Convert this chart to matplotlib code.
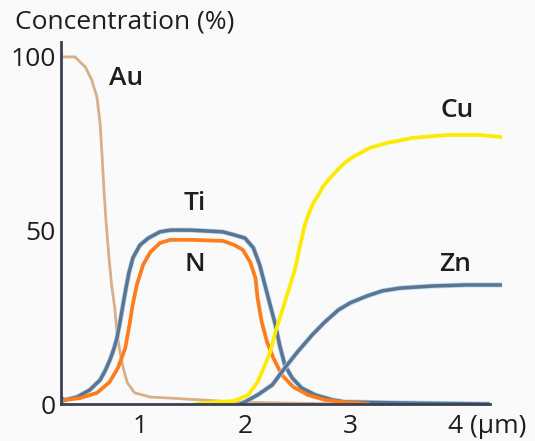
import matplotlib
matplotlib.use("Agg")
import matplotlib.pyplot as plt
import matplotlib.patheffects as pe

plt.rcParams["font.family"] = ["Open Sans", "DejaVu Sans"]

# depth profile, depth in µm, concentration in %
au_x = [0.25, 0.38, 0.48, 0.54, 0.59, 0.62, 0.64, 0.657, 0.676, 0.705, 0.73, 0.76,
        0.78, 0.81, 0.84, 0.88, 0.95, 1.10, 1.29, 1.57, 1.89, 2.33, 3.0, 3.57]
au_y = [100, 100, 97.1, 93.4, 88.5, 81.0, 71.2, 61.7, 53.0, 42.1, 34.3, 27.7,
        20.7, 15.0, 10.4, 6.1, 3.2, 2.0, 1.7, 1.2, 0.6, 0.3, 0.0, 0.0]

ti_x = [0.25, 0.29, 0.40, 0.52, 0.62, 0.667, 0.714, 0.752, 0.781, 0.81, 0.838, 0.867,
        0.895, 0.933, 1.00, 1.08, 1.19, 1.29, 1.48, 1.79, 1.90, 2.00, 2.08, 2.14, 2.19,
        2.24, 2.29, 2.33, 2.38, 2.45, 2.54, 2.67, 2.83, 2.95, 3.48, 4.33]
ti_y = [1.5, 1.2, 2.0, 4.0, 6.9, 9.5, 12.7, 15.9, 19.0, 23.6, 28.5, 33.4,
        37.8, 42.1, 45.8, 47.8, 49.6, 50.1, 50.1, 49.6, 48.7, 47.8, 45.0, 40.1, 34.3,
        28.5, 22.8, 17.0, 11.2, 7.5, 4.6, 2.6, 1.2, 0.6, 0.3, 0.0]

n_x = [0.25, 0.29, 0.43, 0.59, 0.71, 0.79, 0.86, 0.90, 0.93, 0.97, 1.03, 1.10, 1.19,
       1.29, 1.48, 1.79, 1.90, 1.98, 2.05, 2.10, 2.12, 2.16, 2.21, 2.27, 2.35, 2.46,
       2.60, 2.76, 2.92, 3.19]
n_y = [0.6, 1.2, 1.7, 3.2, 6.3, 10.4, 16.1, 22.8, 28.5, 34.3, 40.1, 43.8, 46.4,
       47.3, 47.3, 47.0, 45.8, 44.4, 40.9, 36.3, 30.5, 23.6, 17.9, 13.3, 8.4, 4.9,
       2.6, 1.2, 0.6, 0.0]

cu_x = [1.52, 1.76, 1.90, 2.03, 2.12, 2.19, 2.24, 2.29, 2.35, 2.41, 2.48, 2.52, 2.57,
        2.61, 2.65, 2.70, 2.74, 2.81, 2.88, 2.95, 3.03, 3.19, 3.35, 3.60, 3.92, 4.24,
        4.45]
cu_y = [0.0, 0.6, 0.9, 2.6, 6.3, 11.2, 15.0, 20.7, 26.5, 32.3, 39.2, 45.0, 51.6,
        55.0, 57.9, 60.2, 62.5, 65.1, 67.4, 69.5, 71.2, 73.8, 75.2, 76.7, 77.5, 77.5,
        76.9]

zn_x = [1.95, 2.00, 2.12, 2.26, 2.38, 2.50, 2.64, 2.76, 2.89, 3.00, 3.16, 3.31, 3.48,
        3.79, 4.11, 4.45]
zn_y = [0.0, 0.6, 2.6, 5.5, 10.4, 15.0, 19.9, 23.6, 27.1, 29.1, 31.1, 32.6, 33.4,
        34.0, 34.3, 34.3]

x_ticks = [1, 2, 3, 4]
y_ticks = [0, 50, 100]

BLUE = "#5a7592"
HALO = [pe.Stroke(linewidth=3.6, foreground="#b9d3ec"), pe.Normal()]
TEXT = "#1e1e1e"
FS = 19

fig = plt.figure(figsize=(5.35, 4.41), dpi=100, facecolor="#fafafa")
ax = fig.add_axes([61 / 535, 37 / 441, 441 / 535, 362 / 441])
ax.set_facecolor("#fafafa")

line_kw = dict(solid_joinstyle="round", solid_capstyle="butt")
ax.plot(au_x, au_y, color="#d9ae88", lw=2.0, **line_kw)
ax.plot(ti_x, ti_y, color=BLUE, lw=2.5, path_effects=HALO, **line_kw)
ax.plot(n_x, n_y, color="#ff7d1c", lw=2.7, **line_kw)
ax.plot(zn_x, zn_y, color=BLUE, lw=2.5, path_effects=HALO, **line_kw)
ax.plot(cu_x, cu_y, color="#ffea00", lw=2.7, **line_kw)

ax.set_xlim(0.248, 4.448)
ax.set_ylim(0, 104.3)

for side in ("top", "right"):
    ax.spines[side].set_visible(False)
for side in ("left", "bottom"):
    ax.spines[side].set_color("#3a4152")
    ax.spines[side].set_linewidth(2.0)
ax.spines["bottom"].set_bounds(0.248, 4.33)

ax.set_xticks(x_ticks)
ax.set_yticks(y_ticks)
ax.tick_params(length=0, labelsize=FS, colors=TEXT)
ax.tick_params(axis="x", pad=7)
ax.tick_params(axis="y", pad=4)

# unit sits next to the last tick label
ax.text(4.14, -2.9, "(µm)", fontsize=FS, color=TEXT, ha="left", va="top")
fig.text(15 / 535, 1 - 22 / 441, "Concentration (%)", fontsize=FS, color=TEXT,
         ha="left", va="center")

labels = [("Au", 0.87, 93.8), ("Ti", 1.52, 57.9), ("N", 1.52, 40.1),
          ("Cu", 4.02, 84.7), ("Zn", 4.0, 40.1)]
for name, lx, ly in labels:
    ax.text(lx, ly, name, fontsize=FS, color=TEXT, ha="center", va="center",
            fontweight="semibold")

fig.savefig("out.png", dpi=100, facecolor=fig.get_facecolor())
